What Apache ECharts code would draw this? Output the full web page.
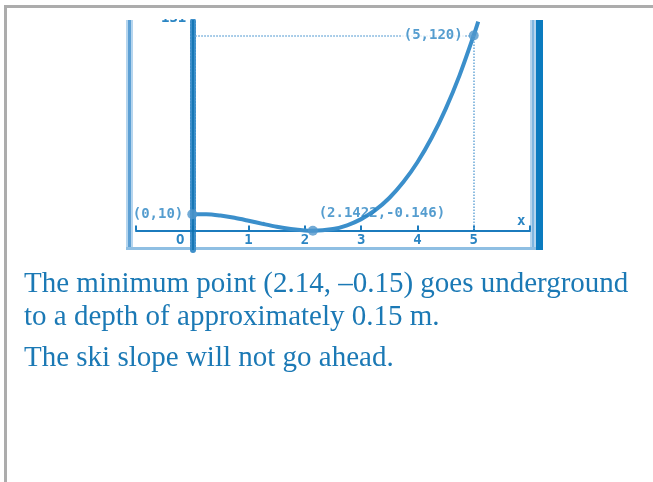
<!DOCTYPE html>
<html>
<head>
<meta charset="utf-8">
<script src="https://cdn.jsdelivr.net/npm/echarts@6/dist/echarts.min.js"></script>
<style>
  html, body { margin: 0; padding: 0; background: #fff; }
  #graph { width: 653px; height: 482px; }
</style>
</head>
<body>
<div id="graph"></div>
<script>
// curve
var curveX = [0, 0.25, 0.5, 0.75, 1, 1.25, 1.5, 1.75, 2, 2.1422, 2.5, 2.75, 3, 3.25, 3.5, 3.75, 4, 4.25, 4.5, 4.75, 5, 5.08];
var curveY = [10, 10, 9.2, 7.8, 6, 4.1, 2.3, 0.9, 0, -0.146, 0.9, 3.2, 7, 12.5, 20, 29.8, 42, 56.9, 74.7, 95.6, 120, 128.5];

// marked points
var pointX = [0, 2.1422, 5];
var pointY = [10, -0.146, 120];
var pointLabels = ['(0,10)', '(2.1422,-0.146)', '(5,120)'];

var xTickLabels = { '0': 'O', '1': '1', '2': '2', '3': '3', '4': '4', '5': '5' };
var yTopLabel = '131';

var answerLines = [
  'The minimum point (2.14, \u20130.15) goes underground',
  'to a depth of approximately 0.15 m.',
  'The ski slope will not go ahead.'
];

var blue = '#1b7bbd';
var curveBlue = '#3b8fcb';
var labelBlue = '#2a85c3';
var mono = '"DejaVu Sans Mono", monospace';

var chart = echarts.init(document.getElementById('graph'));

var curveData = curveX.map(function (x, i) { return [x, curveY[i]]; });
var pointData = pointX.map(function (x, i) {
  var lab;
  if (i === 0) lab = { position: 'left', distance: 4 };
  else if (i === 1) lab = { position: 'top', distance: 5, offset: [69, 0] };
  else lab = { position: 'left', distance: 4, backgroundColor: '#fff', padding: [0, 2] };
  lab.show = true;
  lab.formatter = pointLabels[i];
  return { value: [x, pointY[i]], label: lab };
});

var option = {
  animation: false,
  grid: { left: 136, right: 123, top: 20, bottom: 232 },
  xAxis: {
    type: 'value',
    min: -1,
    max: 6,
    interval: 1,
    name: 'x',
    nameLocation: 'end',
    nameGap: -13,
    nameTextStyle: { color: labelBlue, fontFamily: mono, fontWeight: 'bold', fontSize: 14, verticalAlign: 'bottom', padding: [0, 0, 2, 0] },
    axisLine: { onZero: true, lineStyle: { color: blue, width: 2 } },
    axisTick: { show: true, inside: true, length: 5, lineStyle: { color: blue, width: 2 } },
    axisLabel: {
      margin: -17,
      color: labelBlue,
      fontFamily: mono,
      fontWeight: 'bold',
      fontSize: 14,
      formatter: function (v) {
        var t = xTickLabels[String(v)];
        if (!t) return '';
        return v === 0 ? '{o|' + t + '}' : t;
      },
      rich: { o: { color: labelBlue, fontFamily: mono, fontWeight: 'bold', fontSize: 14, padding: [0, 24, 0, 0] } }
    },
    splitLine: { show: false }
  },
  yAxis: {
    type: 'value',
    min: -12,
    max: 129.5,
    name: yTopLabel,
    nameLocation: 'end',
    nameGap: -5,
    nameTextStyle: { color: labelBlue, fontFamily: mono, fontWeight: 'bold', fontSize: 14, align: 'right', padding: [0, 6, 0, 0] },
    axisLine: { onZero: true, lineStyle: { color: '#3d8fca', width: 6, type: [1.6, 1.6] } },
    axisTick: { show: false },
    axisLabel: { show: false },
    splitLine: { show: false }
  },
  series: [
    {
      type: 'line',
      data: curveData,
      smooth: 0.3,
      showSymbol: false,
      lineStyle: { color: curveBlue, width: 4 },
      z: 3,
      markLine: {
        silent: true,
        symbol: 'none',
        label: { show: false },
        data: [
          [{ coord: [0, pointY[2]], lineStyle: { color: '#6aa8d8', width: 1.5, type: 'dotted' } }, { coord: [pointX[2], pointY[2]] }],
          [{ coord: [pointX[2], pointY[2]], lineStyle: { color: '#6aa8d8', width: 1.5, type: 'dotted' } }, { coord: [pointX[2], 0] }],
          { xAxis: 0, lineStyle: { color: '#0b6fae', width: 1.5, type: 'solid' } }
        ]
      }
    },
    {
      type: 'scatter',
      data: pointData,
      symbolSize: 10,
      itemStyle: { color: '#5096cc' },
      label: { color: labelBlue, fontFamily: mono, fontWeight: 'bold', fontSize: 14 },
      z: 5
    }
  ],
  graphic: [
    // page border
    { type: 'rect', shape: { x: 4, y: 5, width: 649, height: 3 }, style: { fill: '#acacac' } },
    { type: 'rect', shape: { x: 4, y: 5, width: 3, height: 477 }, style: { fill: '#acacac' } },
    // cover the clipped top of the screen
    { type: 'rect', z: 100, shape: { x: 110, y: 8, width: 450, height: 11 }, style: { fill: '#fff' } },
    // calculator screen frame
    { type: 'rect', shape: { x: 126, y: 20, width: 7, height: 230 }, style: { fill: '#b5d5ee' } },
    { type: 'rect', shape: { x: 128, y: 20, width: 3, height: 230 }, style: { fill: '#5da0d4' } },
    { type: 'rect', shape: { x: 530, y: 20, width: 6, height: 230 }, style: { fill: '#b5d5ee' } },
    { type: 'rect', shape: { x: 532, y: 20, width: 2, height: 230 }, style: { fill: '#7fb6e0' } },
    { type: 'rect', shape: { x: 536, y: 20, width: 7, height: 230 }, style: { fill: '#0b7bbf' } },
    { type: 'rect', shape: { x: 126, y: 247, width: 410, height: 3 }, style: { fill: '#8fbfe3' } },
    // answer text
    { type: 'text', x: 24, y: 284.5, style: { text: answerLines[0], fill: '#1b79b5', font: '29px "Liberation Serif"', verticalAlign: 'middle' } },
    { type: 'text', x: 24, y: 317.5, style: { text: answerLines[1], fill: '#1b79b5', font: '29px "Liberation Serif"', verticalAlign: 'middle' } },
    { type: 'text', x: 24, y: 358.5, style: { text: answerLines[2], fill: '#1b79b5', font: '29px "Liberation Serif"', verticalAlign: 'middle' } }
  ]
};

chart.setOption(option);
window.addEventListener('resize', function () {
  chart.resize();
});
</script>
</body>
</html>
